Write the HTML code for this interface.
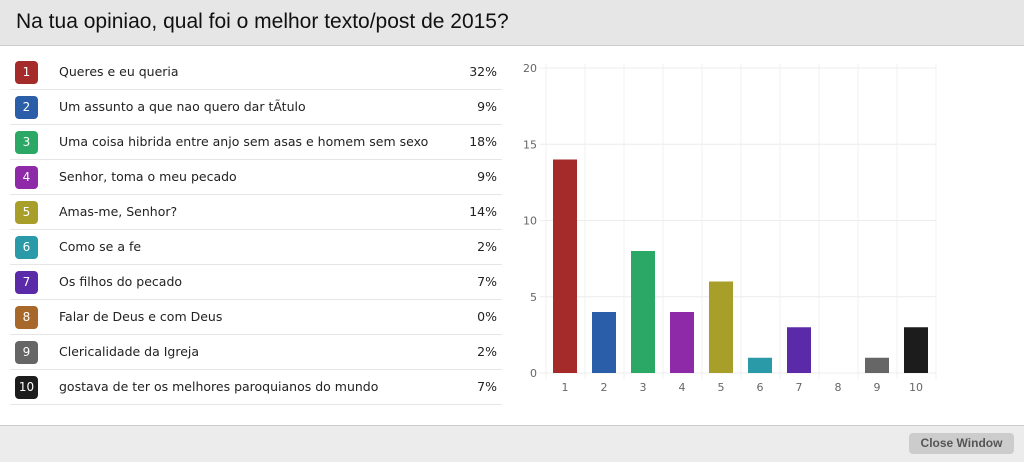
<!DOCTYPE html>
<html><head><meta charset="utf-8"><style>
body{margin:0;width:1024px;height:461px;overflow:hidden;background:#fff;font-family:"Liberation Sans","DejaVu Sans",sans-serif;position:relative}
#hdr{position:absolute;left:0;top:0;width:1024px;height:45px;background:#e6e6e6;border-bottom:1px solid #ccc}
#hdr h1{margin:0;position:absolute;left:16px;top:10px;font-size:21px;font-weight:normal;color:#111}
.row{position:absolute;left:10px;width:492px;height:34px;border-bottom:1px solid #e6e6e6}
.badge{position:absolute;left:5px;top:6px;width:23px;height:23px;border-radius:4px;color:#fff;font-size:12px;text-align:center;line-height:23px;font-family:"DejaVu Sans",sans-serif}
.lbl{position:absolute;left:49px;top:9px;font-size:12.5px;color:#222;font-family:"DejaVu Sans",sans-serif}
.pct{position:absolute;right:5px;top:9px;font-size:12.5px;color:#222;font-family:"DejaVu Sans",sans-serif}
#ftr{position:absolute;left:0;top:425px;width:1024px;height:36px;background:#ececec;border-top:1px solid #ccc}
#close{position:absolute;left:909px;top:7px;width:105px;height:21px;background:#ccc;border-radius:4px;color:#555;font-size:12px;font-weight:bold;text-align:center;line-height:21px}
svg text{font-family:"DejaVu Sans",sans-serif;font-size:11px;fill:#666}
</style></head><body>
<div id="hdr"><h1>Na tua opiniao, qual foi o melhor texto/post de 2015?</h1></div>
<div id="list"></div>
<svg id="chart" width="1024" height="425" style="position:absolute;left:0;top:0"></svg>
<div id="ftr"><div id="close">Close Window</div></div>
<script>
const categories=["1","2","3","4","5","6","7","8","9","10"];
const labels=["Queres e eu queria","Um assunto a que nao quero dar tÃtulo","Uma coisa hibrida entre anjo sem asas e homem sem sexo","Senhor, toma o meu pecado","Amas-me, Senhor?","Como se a fe","Os filhos do pecado","Falar de Deus e com Deus","Clericalidade da Igreja","gostava de ter os melhores paroquianos do mundo"];
const percents=["32%","9%","18%","9%","14%","2%","7%","0%","2%","7%"];
const values=[14,4,8,4,6,1,3,0,1,3];
const yTicks=[0,5,10,15,20];
const colors=["#a52a2a","#2b5ea8","#2ca866","#8e2aa8","#a89e2a","#2a9aa8","#5a2aa8","#a8682a","#666666","#1c1c1c"];
const list=document.getElementById('list');
labels.forEach((t,i)=>{
  const r=document.createElement('div');r.className='row';r.style.top=(55+i*35)+'px';
  
  
  r.innerHTML='<div class="badge" style="background:'+colors[i]+'">'+categories[i]+'</div><div class="lbl">'+t+'</div><div class="pct">'+percents[i]+'</div>';
  list.appendChild(r);
});
const svg=document.getElementById('chart');const NS='http://www.w3.org/2000/svg';
const L=546,R=936,T=68,B=373,ymax=20;
const y=v=>B-(B-T)*v/ymax;
const bw=(R-L)/categories.length;
const x=i=>L+bw*i;
function el(tag,a){const e=document.createElementNS(NS,tag);for(const k in a)e.setAttribute(k,a[k]);svg.appendChild(e);return e;}
yTicks.forEach(v=>{
  const g=el('line',{x1:L-6,x2:R,y1:y(v),y2:y(v),stroke:'#ececec'});
  
  
  const t=el('text',{x:537,y:y(v)+4,'text-anchor':'end'});t.textContent=v;
  
  
});
for(let i=0;i<=categories.length;i++){el('line',{x1:x(i),x2:x(i),y1:T-4,y2:B+6,stroke:'#f0f0f0'});}
categories.forEach((c,i)=>{
  const b=el('rect',{x:x(i)+7,y:y(values[i]),width:bw-15,height:B-y(values[i]),fill:colors[i]});
  
  
  const t=el('text',{x:x(i)+bw/2-0.5,y:391,'text-anchor':'middle'});t.textContent=c;
  
  
});
</script>
</body></html>
